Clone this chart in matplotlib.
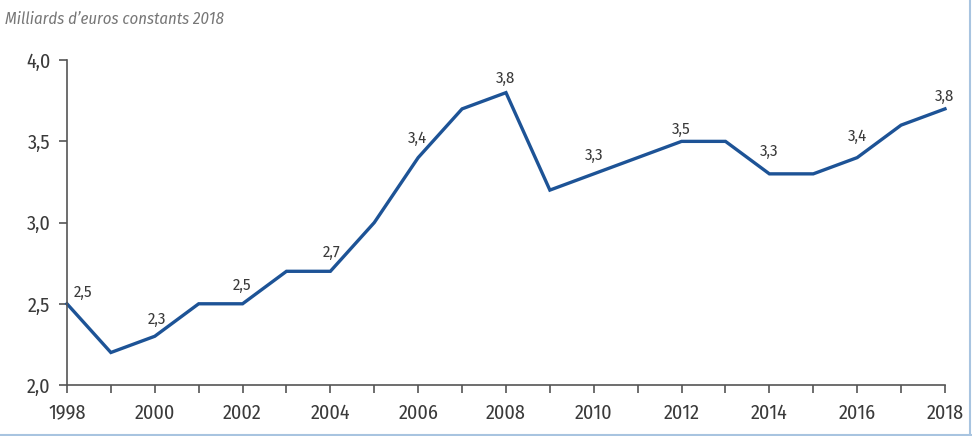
import matplotlib.pyplot as plt
import numpy as np

# donnees
annees = np.arange(1998, 2019)
valeurs = [2.5, 2.2, 2.3, 2.5, 2.5, 2.7, 2.7, 3.0, 3.4, 3.7, 3.8,
           3.2, 3.3, 3.4, 3.5, 3.5, 3.3, 3.3, 3.4, 3.6, 3.7]
annees_etiq = [1998, 2000, 2002, 2004, 2006, 2008, 2010, 2012, 2014, 2016, 2018]
etiquettes = ["2,5", "2,3", "2,5", "2,7", "3,4", "3,8", "3,3", "3,5", "3,3", "3,4", "3,8"]
yticks = [2.0, 2.5, 3.0, 3.5, 4.0]
ytick_labels = ["2,0", "2,5", "3,0", "3,5", "4,0"]

plt.rcParams['font.family'] = ['Fira Sans Condensed', 'DejaVu Sans']

bleu = '#1d5396'
gris = '#3a3a3a'

fig = plt.figure(figsize=(9.72, 4.36), dpi=100)
ax = fig.add_axes([0.0689, 0.117, 0.9033, 0.745])

ax.plot(annees, valeurs, color=bleu, lw=2.4, solid_joinstyle='miter', clip_on=False)

# decalages des etiquettes (points)
decal = {1998: (11.5, 8.6), 2000: (1.5, 12.2), 2002: (0, 13), 2004: (1, 13.7),
         2006: (-0.5, 13.7), 2008: (0, 10), 2010: (0, 13.7), 2012: (0, 8.6),
         2014: (0, 16.5), 2016: (0, 15), 2018: (0, 9.4)}
for a, e in zip(annees_etiq, etiquettes):
    v = valeurs[list(annees).index(a)]
    ax.annotate(e, (a, v), xytext=decal[a], textcoords='offset points',
                ha='center', va='center', fontsize=12, color=gris)

ax.set_xlim(1998, 2018)
ax.set_ylim(2.0, 4.0)
ax.set_xticks(annees)
ax.set_xticklabels([str(a) if a % 2 == 0 else "" for a in annees])
ax.set_yticks(yticks)
ax.set_yticklabels(ytick_labels)

for s in ['top', 'right']:
    ax.spines[s].set_visible(False)
for s in ['left', 'bottom']:
    ax.spines[s].set_color('#555555')
    ax.spines[s].set_linewidth(1.2)
ax.tick_params(axis='both', colors='#555555', length=6, width=1.2,
               labelsize=14.5, labelcolor=gris)
ax.tick_params(axis='x', pad=7)
ax.tick_params(axis='y', pad=6)

fig.text(0.005, 0.975, "Milliards d’euros constants 2018", fontsize=12,
         style='italic', color='#777777', ha='left', va='top')

# liseré bleu clair a droite et en bas
fig.add_artist(plt.Line2D([0.998, 0.998], [0.0, 1.0], color='#a8c4e0', lw=1.5))
fig.add_artist(plt.Line2D([0.0, 1.0], [0.003, 0.003], color='#a8c4e0', lw=1.5))

fig.savefig("out.png", dpi=100)
